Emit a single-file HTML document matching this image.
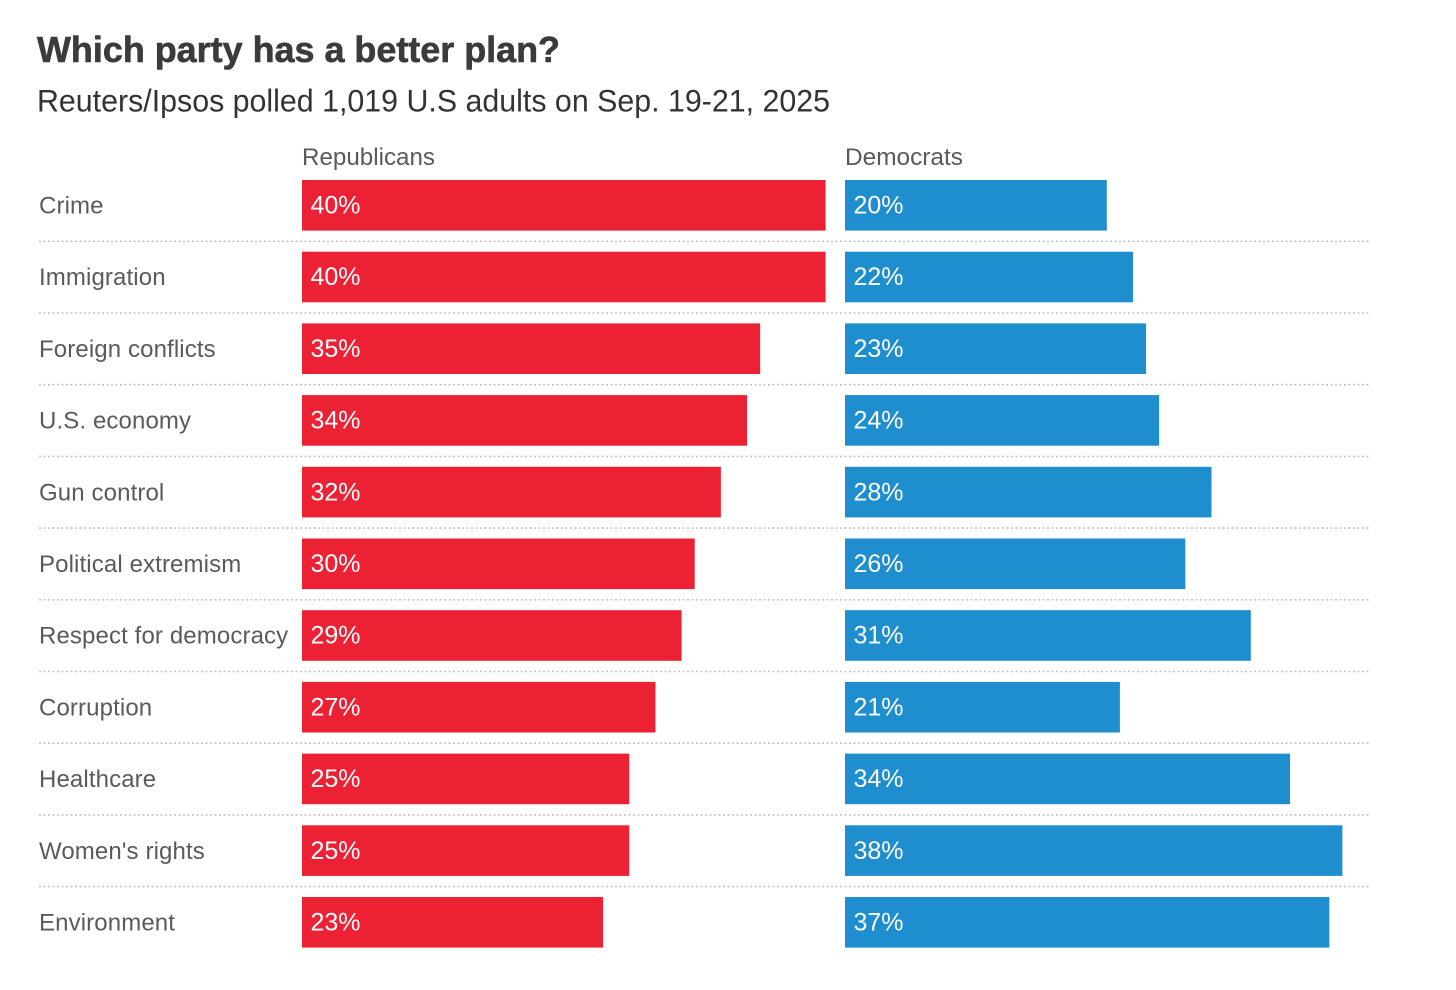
<!DOCTYPE html>
<html lang="en">
<head>
<meta charset="utf-8">
<title>Which party has a better plan?</title>
<style>
  html, body { margin: 0; padding: 0; background: #fff; }
  #chart { display: block; width: 1456px; height: 990px; font-family: "Liberation Sans", sans-serif; }
</style>
</head>
<body>
<svg id="chart" xmlns="http://www.w3.org/2000/svg" width="1456" height="990" viewBox="0 0 1456 990">
  <rect x="0" y="0" width="1456" height="990" fill="#ffffff"/>
  <text x="37" y="62" font-size="36" font-weight="700" fill="#3b3b3b" stroke="#3b3b3b" stroke-width="0.6" textLength="523" lengthAdjust="spacingAndGlyphs">Which party has a better plan?</text>
  <text x="37" y="111.5" font-size="31.5" fill="#333333" textLength="793" lengthAdjust="spacingAndGlyphs">Reuters/Ipsos polled 1,019 U.S adults on Sep. 19-21, 2025</text>
  <text x="302" y="165" font-size="24" fill="#5a5a5a" textLength="133" lengthAdjust="spacingAndGlyphs">Republicans</text>
  <text x="845" y="165" font-size="24" fill="#5a5a5a" textLength="118" lengthAdjust="spacingAndGlyphs">Democrats</text>
  <g id="rows"></g>
</svg>
<script>
const categories = ["Crime", "Immigration", "Foreign conflicts", "U.S. economy", "Gun control", "Political extremism", "Respect for democracy", "Corruption", "Healthcare", "Women's rights", "Environment"];
const republicanValues = [40, 40, 35, 34, 32, 30, 29, 27, 25, 25, 23];
const democratValues = [20, 22, 23, 24, 28, 26, 31, 21, 34, 38, 37];

const NS = "http://www.w3.org/2000/svg";
const rowsGroup = document.getElementById("rows");
const UNIT = 13.09;
const REP_X0 = 302;
const DEM_X0 = 845;
const ROW_TOP = 180;
const ROW_STEP = 71.7;
const BAR_H = 50.6;

function widthFor(value) { return value * UNIT; }
function rowY(index) { return ROW_TOP + index * ROW_STEP; }

function addNode(tag, attrs, text) {
  const el = document.createElementNS(NS, tag);
  Object.keys(attrs).forEach(function (k) { el.setAttribute(k, attrs[k]); });
  if (text !== undefined) { el.textContent = text; }
  rowsGroup.appendChild(el);
  return el;
}

function drawBar(x0, value, index, fill, party) {
  const y = rowY(index);
  const bar = addNode("rect", { x: x0, y: y, width: widthFor(value), height: BAR_H, fill: fill });
  
  
  const label = addNode("text", { x: x0 + 8.5, y: y + 33.5, "font-size": 25, fill: "#ffffff" }, value + "%");
  
  
}

categories.forEach(function (category, i) {
  const label = addNode("text", { x: 39, y: rowY(i) + 33.5, "font-size": 24, "letter-spacing": 0.12, fill: "#5a5a5a" }, category);
  
  
  drawBar(REP_X0, republicanValues[i], i, "#ec2134", "republicans");
  drawBar(DEM_X0, democratValues[i], i, "#1f8ece", "democrats");
  if (i < categories.length - 1) {
    const lineY = rowY(i) + 61.3;
    const divider = addNode("line", { x1: 39, x2: 1369, y1: lineY, y2: lineY, stroke: "#c4c4c4", "stroke-width": 1.6, "stroke-dasharray": "2 2.5" });
    
    
  }
});
</script>
</body>
</html>
